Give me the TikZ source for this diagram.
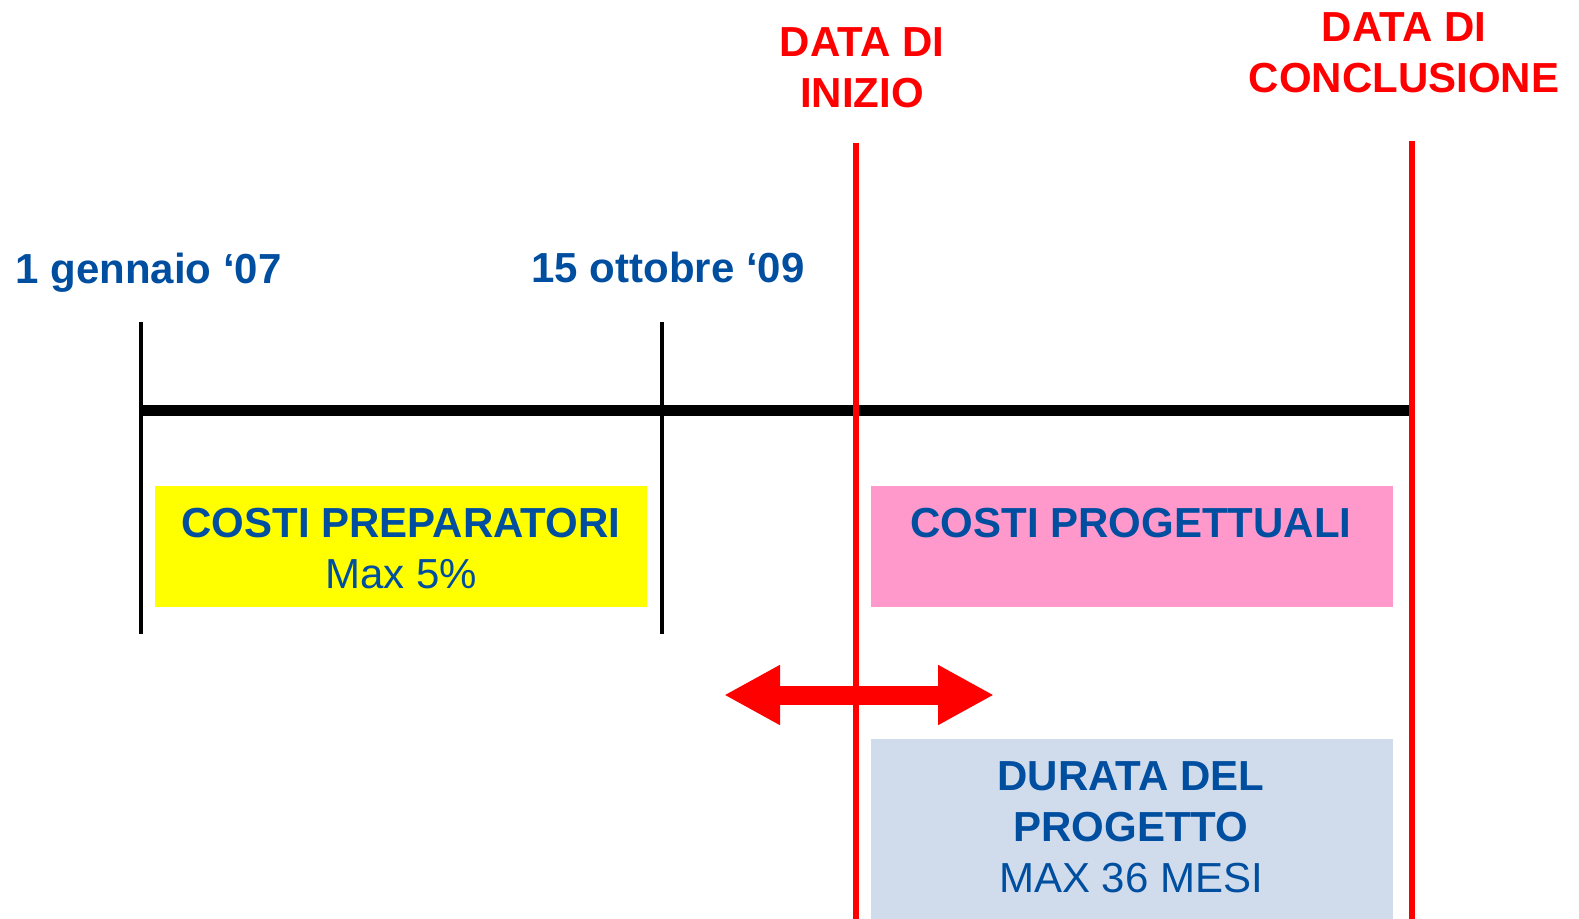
\documentclass[tikz,border=0pt]{standalone}
\usepackage{fontspec}
\setmainfont{Liberation Sans}
\usetikzlibrary{arrows.meta}
\definecolor{tblue}{RGB}{0,78,160}
\definecolor{tred}{RGB}{255,0,0}
\definecolor{tyellow}{RGB}{255,255,0}
\definecolor{tpink}{RGB}{255,153,204}
\definecolor{tgrey}{RGB}{208,220,236}
\tikzset{
  px/.style={x=0.5pt,y=-0.5pt},
  datelbl/.style={text=tblue,font=\fontsize{21pt}{25.5pt}\selectfont\bfseries,inner sep=0pt},
  redlbl/.style={text=tred,font=\fontsize{21pt}{25.5pt}\selectfont\bfseries,inner sep=0pt,anchor=base},
  boldtxt/.style={text=tblue,font=\fontsize{21pt}{25.5pt}\selectfont\bfseries,inner sep=0pt,anchor=base},
  plaintxt/.style={text=tblue,font=\fontsize{21pt}{25.5pt}\selectfont,inner sep=0pt,anchor=base},
  boxshape/.style={draw=none,inner sep=0pt,outer sep=0pt},
  tick/.style={line width=2pt,black},
  redline/.style={line width=3pt,tred},
  axis/.style={line width=5.5pt,black},
  dblarrow/.style={line width=9.5pt,tred,{Triangle[width=28pt,length=28pt]}-{Triangle[width=28pt,length=28pt]}}
}
\begin{document}
\begin{tikzpicture}[px]
\useasboundingbox (0,0) rectangle (1579,919);
% boxes
\fill[tyellow] (155,486) rectangle (647,607);
\node[boxshape] (yb) at (401,546.5) {};
\fill[tpink] (871,486) rectangle (1393,607);
\node[boxshape] (pb) at (1132,546.5) {};
\fill[tgrey] (871,739) rectangle (1393,919);
\node[boxshape] (gb) at (1132,829) {};
% coordinates
\coordinate (t1a) at (141,322); \coordinate (t1b) at (141,634);
\coordinate (t2a) at (662,322); \coordinate (t2b) at (662,634);
\coordinate (r1a) at (856,143); \coordinate (r1b) at (856,919);
\coordinate (r2a) at (1412,141); \coordinate (r2b) at (1412,919);
\coordinate (axl) at (141,411); \coordinate (axr) at (1410,411);
\coordinate (arl) at (724,695); \coordinate (arr) at (994,695);
% lines
\draw[tick] (t1a) -- (t1b);
\draw[tick] (t2a) -- (t2b);
\draw[axis] (axl) -- (axr);
\draw[redline] (r1a) -- (r1b);
\draw[redline] (r2a) -- (r2b);
\draw[dblarrow] (arl) -- (arr);
% labels
\node[datelbl,anchor=base west] (d1) at (15,284) {1 gennaio ‘07};
\node[datelbl,anchor=base west] (d2) at (531,283) {15 ottobre ‘09};
\node[redlbl] (s1) at (862,57) {DATA DI};
\node[redlbl] (s2) at (862,108) {INIZIO};
\node[redlbl] (c1) at (1404,42) {DATA DI};
\node[redlbl] (c2) at (1404,93) {CONCLUSIONE};
\node[boldtxt] (y1) at (401,537) {COSTI PREPARATORI};
\node[plaintxt] (y2) at (401,588) {Max 5\%};
\node[boldtxt] (p1) at (1131,537) {COSTI PROGETTUALI};
\node[boldtxt] (g1) at (1131,790) {DURATA DEL};
\node[boldtxt] (g2) at (1131,841) {PROGETTO};
\node[plaintxt] (g3) at (1131,892) {MAX 36 MESI};
\end{tikzpicture}
\end{document}
